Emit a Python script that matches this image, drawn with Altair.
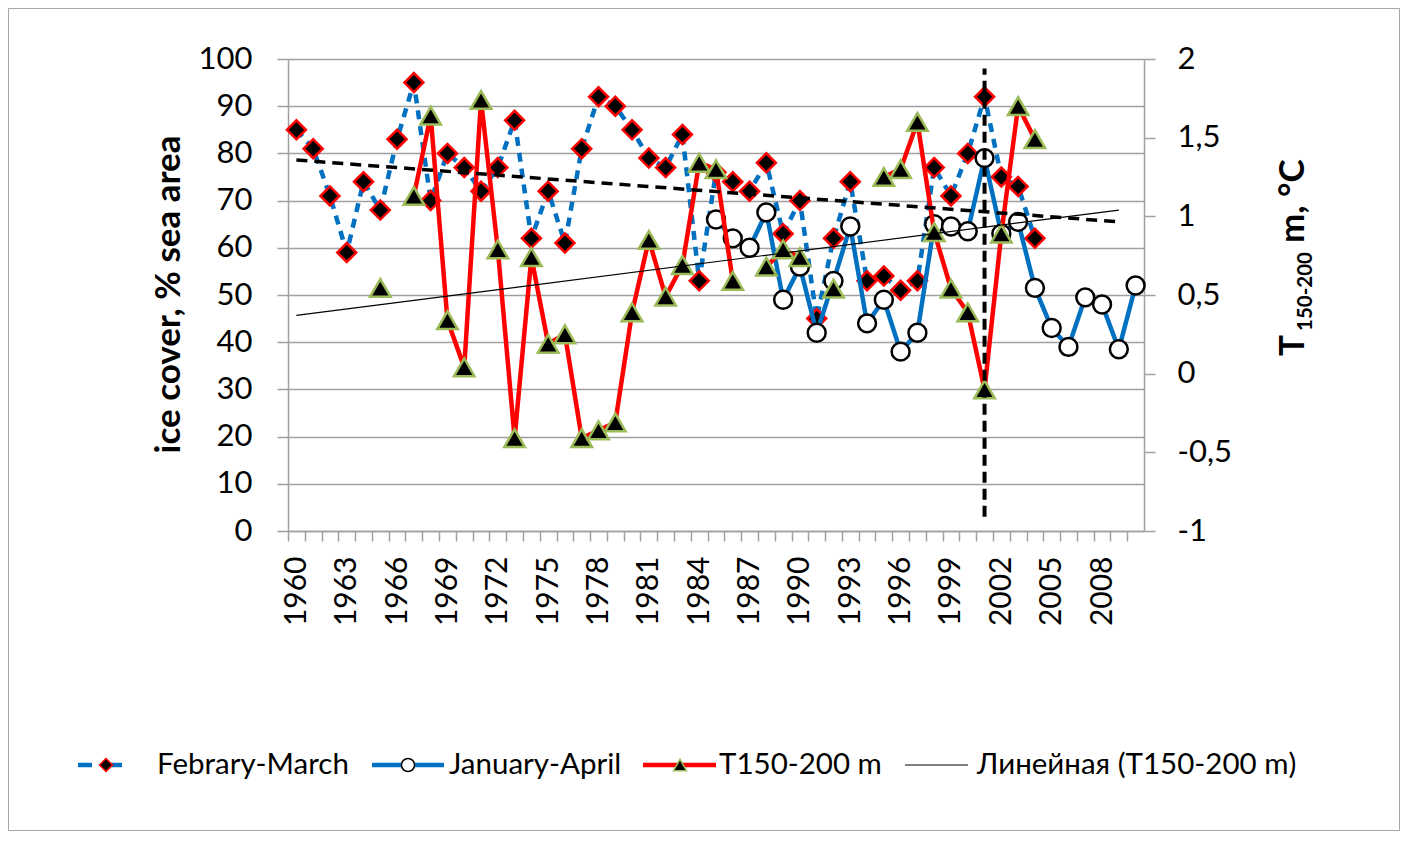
import altair as alt
import pandas as pd

# ---------------- data ----------------
years = list(range(1960, 2011))
feb_march = [85, 81, 71, 59, 74, 68, 83, 95, 70, 80,
             77, 72, 77, 87, 62, 72, 61, 81, 92, 90,
             85, 79, 77, 84, 53, 76, 74, 72, 78, 63,
             70, 45, 62, 74, 53, 54, 51, 53, 77, 71,
             80, 92, 75, 73, 62] + [None] * 6
jan_april = [None] * 25 + [66, 62, 60, 67.5, 49, 56, 42, 53, 64.5, 44,
                           49, 38, 42, 65, 64.5, 63.5, 79, 63, 65.5, 51.5,
                           43, 39, 49.5, 48, 38.5, 52]
t150 = [None] * 5 + [0.545, None,
                     1.13, 1.64, 0.34, 0.04, 1.74, 0.79, -0.41, 0.74, 0.19, 0.25,
                     -0.41, -0.36, -0.31, 0.39, 0.85, 0.49, 0.69, 1.34, 1.30, 0.59,
                     None, 0.68, 0.79, 0.74, None, 0.54, None, None,
                     1.25, 1.30, 1.60, 0.90, 0.54, 0.39, -0.10, 0.89, 1.70, 1.49] + [None] * 6
trend_years = [1960, 2009]
fm_trend = [78.6, 65.5]
t_trend = [0.37, 1.04]
vline_year = [2001]
vline_lo = [3]
vline_hi = [98]
left_ticks = list(range(0, 101, 10))
right_ticks = [-1, -0.5, 0, 0.5, 1, 1.5, 2]

# ---------------- tables ----------------
df = pd.DataFrame({"year": years, "fm": feb_march, "ja": jan_april, "t": t150})
seg, s, prev_null = [], 0, True
for v in t150:
    if v is None:
        prev_null = True
        seg.append(None)
    else:
        if prev_null:
            s += 1
        prev_null = False
        seg.append(s)
df["seg"] = seg
df_fm = df.dropna(subset=["fm"])
df_ja = df.dropna(subset=["ja"])
df_t = df.dropna(subset=["t"])
df_trend = pd.DataFrame({"year": trend_years, "fmtr": fm_trend, "ttr": t_trend})
df_vl = pd.DataFrame({"year": vline_year, "lo": vline_lo, "hi": vline_hi})
one = pd.DataFrame({"k": [0]})

# ---------------- style ----------------
W, H = 856, 472
FONT = "Lato, 'Open Sans', sans-serif"
GRID = "#a0a0a0"
BLUE = "#0070C0"
RED = "#FF0000"
OLIVE = "#9BBB59"
half = W / len(years) / 2

xscale = alt.Scale(domain=[1959.5, 2010.5], nice=False, zero=False)
x_axis = alt.Axis(values=years, tickOffset=-half, labelOffset=half, labelAngle=-90,
                  labelExpr="(datum.value - 1960) % 3 == 0 ? toString(datum.value) : ''",
                  tickSize=10, labelPadding=15, domainColor=GRID, tickColor=GRID,
                  domainWidth=1.5, tickWidth=1.5, grid=False, title=None,
                  labelFont=FONT, labelFontSize=30, labelColor="#000",
                  labelAlign="right", labelBaseline="middle",
                  labelOverlap=False, labelFlush=False, labelBound=False)
yl_scale = alt.Scale(domain=[0, 100], nice=False, zero=False)
yl_axis = alt.Axis(values=left_ticks, grid=True, gridColor=GRID, gridWidth=1.5,
                   domainColor=GRID, tickColor=GRID, domainWidth=1.5, tickWidth=1.5,
                   tickSize=11, labelPadding=25, labelFont=FONT, labelFontSize=31,
                   labelColor="#000", title="ice cover, % sea area",
                   titleFont=FONT, titleFontSize=35, titleFontWeight="bold",
                   titleColor="#000", titleAngle=270, titleX=-120, titleY=235,
                   titleAlign="center", titleBaseline="middle")
yr_scale = alt.Scale(domain=[-1, 2], nice=False, zero=False)
yr_axis = alt.Axis(orient="right", values=right_ticks, grid=False,
                   domainColor=GRID, tickColor=GRID, domainWidth=1.5, tickWidth=1.5,
                   tickSize=11, labelPadding=22, labelFont=FONT, labelFontSize=31,
                   labelColor="#000", title=None,
                   labelExpr="replace(toString(datum.value), '.', ',')")


def X():
    return alt.X("year:Q", scale=xscale, axis=x_axis)


# ---------------- left-axis series ----------------
fm_line = alt.Chart(df_fm).mark_line(color=BLUE, strokeWidth=4.5, strokeDash=[9, 7]).encode(
    x=X(), y=alt.Y("fm:Q", scale=yl_scale, axis=yl_axis))
fm_pts = alt.Chart(df_fm).mark_point(shape="diamond", filled=True, fill="#000", stroke=RED,
                                     strokeWidth=2.5, size=360, opacity=1).encode(
    x=X(), y=alt.Y("fm:Q", scale=yl_scale, axis=yl_axis))
ja_line = alt.Chart(df_ja).mark_line(color=BLUE, strokeWidth=4.5).encode(
    x=X(), y=alt.Y("ja:Q", scale=yl_scale, axis=yl_axis))
ja_pts = alt.Chart(df_ja).mark_point(shape="circle", filled=True, fill="#fff", stroke="#000",
                                     strokeWidth=2.5, size=320, opacity=1).encode(
    x=X(), y=alt.Y("ja:Q", scale=yl_scale, axis=yl_axis))
left = alt.layer(fm_line, fm_pts, ja_line, ja_pts)

# ---------------- right-axis series ----------------
t_line = alt.Chart(df_t).mark_line(color=RED, strokeWidth=4.5).encode(
    x=X(), y=alt.Y("t:Q", scale=yr_scale, axis=yr_axis), detail="seg:N")
t_pts = alt.Chart(df_t).mark_point(shape="triangle-up", filled=True, fill="#000", stroke=OLIVE,
                                   strokeWidth=2.5, size=420, opacity=1).encode(
    x=X(), y=alt.Y("t:Q", scale=yr_scale, axis=yr_axis))
t_tr = alt.Chart(df_trend).mark_line(color="#000", strokeWidth=1.2).encode(
    x=X(), y=alt.Y("ttr:Q", scale=yr_scale, axis=yr_axis))
right = alt.layer(t_line, t_pts, t_tr)

# ---------------- overlays on left scale ----------------
fm_tr = alt.Chart(df_trend).mark_line(color="#000", strokeWidth=3.5, strokeDash=[11, 7]).encode(
    x=X(), y=alt.Y("fmtr:Q", scale=yl_scale, axis=None))
vline = alt.Chart(df_vl).mark_rule(color="#000", strokeWidth=4, strokeDash=[11, 6]).encode(
    x=X(), y=alt.Y("lo:Q", scale=yl_scale, axis=None), y2="hi:Q")
over = alt.layer(fm_tr, vline)

# ---------------- legend & right title & frame ----------------
LY = 706
LFS = 29.5


def rule(x1, x2, color, width, dash=None):
    kw = dict(color=color, strokeWidth=width)
    if dash:
        kw["strokeDash"] = dash
    return alt.Chart(one).mark_rule(**kw).encode(x=alt.value(x1), x2=alt.value(x2), y=alt.value(LY))


def sym(xp, **kw):
    return alt.Chart(one).mark_point(filled=True, opacity=1, **kw).encode(x=alt.value(xp), y=alt.value(LY))


def txt(xp, yp, s, size=LFS, weight="normal", angle=0, align="left"):
    return alt.Chart(one).mark_text(text=s, font=FONT, fontSize=size, fontWeight=weight,
                                    angle=angle, align=align, baseline="middle",
                                    color="#000").encode(x=alt.value(xp), y=alt.value(yp))


legend = [
    rule(-210, -154, BLUE, 4.5, [14, 16]),
    sym(-182, shape="diamond", fill="#000", stroke=RED, strokeWidth=1.5, size=170),
    txt(-131, LY, "Febrary-March"),
    rule(84, 156, BLUE, 4.5),
    sym(120, shape="circle", fill="#fff", stroke="#000", strokeWidth=1.5, size=170),
    txt(161, LY, "January-April"),
    rule(355, 428, RED, 4.5),
    sym(392, shape="triangle-up", fill="#000", stroke=OLIVE, strokeWidth=1.5, size=170),
    txt(431, LY, "T150-200 m"),
    rule(617, 680, "#000", 1.2),
    txt(689, LY, "Линейная (T150-200 m)"),
    # right axis title with subscript
    txt(1005, 297, "T", size=35, weight="bold", angle=270),
    txt(1018, 272, "150-200", size=20.5, weight="bold", angle=270),
    txt(1005, 184, "m, °C", size=35, weight="bold", angle=270),
]
frame = alt.Chart(one).mark_rect(fillOpacity=0, stroke="#a6a6a6", strokeWidth=1).encode(
    x=alt.value(-279.5), x2=alt.value(W + 255.5), y=alt.value(-50.5), y2=alt.value(H + 299.5))

chart = alt.layer(left, right, over, *legend, frame).resolve_scale(y="independent").properties(
    width=W, height=H,
    padding={"left": 280, "top": 51, "right": 256, "bottom": 300},
    autosize=alt.AutoSizeParams(type="none"),
    background="#ffffff",
).configure_view(strokeWidth=0)

chart.save("out.html", embed_options={"renderer": "svg", "actions": False})
